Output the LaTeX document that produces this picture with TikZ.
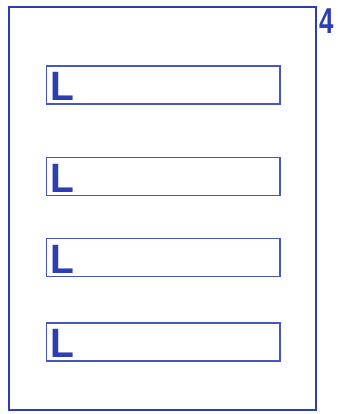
\documentclass[tikz,border=0pt]{standalone}
\usepackage{fontspec}
\usetikzlibrary{positioning}
\newfontfamily\signfont[BoldFont={Liberation Sans Bold}]{Liberation Sans}
\definecolor{inkblue}{RGB}{44,62,178}
\definecolor{slotblue}{RGB}{70,88,190}
\tikzset{
  sheet/.style={rectangle,draw=inkblue,line width=2pt,inner sep=0pt,outer sep=0pt,minimum width=307pt,minimum height=403pt},
  slot/.style={rectangle,draw=slotblue,line width=1.3pt,inner sep=0pt,outer sep=0pt,minimum width=233.5pt,minimum height=38pt},
  letter/.style={inner sep=0pt,outer sep=0pt,anchor=base west,text=inkblue,font=\signfont\bfseries\fontsize{41}{41}\selectfont,xshift=3.5pt,yshift=3pt},
  number/.style={inner sep=0pt,text=inkblue,font=\signfont\bfseries\fontsize{36}{36}\selectfont}
}
\begin{document}
\begin{tikzpicture}[x=1pt,y=1pt]
\useasboundingbox (0,0) rectangle (337,414);
\node[sheet] (sheet) at (162,205.5) {};
\node[number, anchor=north west, right=4pt of sheet.north east, yshift=-14pt] (num) {\scalebox{0.72}[1]{4}};
% four label slots
\node[slot] (slot1) at (163.25,329) {};
\node[slot] (slot2) at (163.25,237.5) {};
\node[slot] (slot3) at (163.25,156.5) {};
\node[slot] (slot4) at (163.25,72) {};
\node[letter] (l1) at (slot1.south west) {\scalebox{0.95}[1]{L}};
\node[letter] (l2) at (slot2.south west) {\scalebox{0.95}[1]{L}};
\node[letter] (l3) at (slot3.south west) {\scalebox{0.95}[1]{L}};
\node[letter] (l4) at (slot4.south west) {\scalebox{0.95}[1]{L}};
\end{tikzpicture}
\end{document}
